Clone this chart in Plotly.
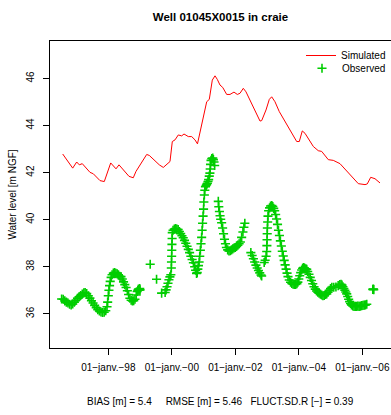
import plotly.graph_objects as go

# Simulated water level (decimal year, m NGF)
sim_year = [1996.564, 1996.879, 1997.005, 1997.087, 1997.181, 1997.424, 1997.528, 1997.739,
            1997.874, 1998.076, 1998.243, 1998.337, 1998.652, 1998.787, 1998.872, 1999.209,
            1999.291, 1999.606, 1999.732, 1999.943, 2000.016, 2000.101, 2000.205, 2000.312,
            2000.384, 2000.520, 2000.627, 2000.731, 2000.809, 2000.973, 2001.099, 2001.181,
            2001.276, 2001.361, 2001.433, 2001.518, 2001.603, 2001.729, 2001.833, 2001.959,
            2002.063, 2002.148, 2002.252, 2002.337, 2002.778, 2002.832, 2002.967, 2003.071,
            2003.146, 2003.250, 2003.386, 2003.934, 2004.016, 2004.110, 2004.195, 2004.457,
            2004.614, 2004.721, 2004.929, 2005.087, 2005.298, 2005.874, 2006.085, 2006.157,
            2006.265, 2006.400, 2006.558]
sim_level = [42.79, 42.19, 42.45, 42.33, 42.38, 42.01, 41.95, 41.66,
             41.62, 42.41, 42.16, 42.33, 41.84, 41.78, 42.05, 42.77,
             42.73, 42.33, 42.22, 42.47, 43.32, 43.39, 43.60, 43.56,
             43.64, 43.53, 43.53, 43.39, 43.22, 44.31, 45.01, 45.11,
             45.93, 46.11, 45.96, 45.72, 45.62, 45.32, 45.32, 45.42,
             45.32, 45.37, 45.58, 45.43, 44.19, 44.21, 44.66, 45.11,
             45.22, 45.01, 44.59, 43.32, 43.32, 43.77, 43.67, 43.11,
             42.93, 42.90, 42.55, 42.52, 42.38, 41.53, 41.49, 41.52,
             41.80, 41.74, 41.56]

# Observed water level (decimal year, m NGF)
obs_year = [
    1996.53, 1996.58, 1996.63, 1996.68, 1996.73, 1996.78, 1996.83, 1996.88, 1996.93, 1996.98,
    1997.03, 1997.08, 1997.13, 1997.18, 1997.23, 1997.27, 1997.32, 1997.37, 1997.42, 1997.47,
    1997.52, 1997.57, 1997.62, 1997.67, 1997.72, 1997.77, 1997.82, 1997.87, 1997.92, 1997.96,
    1997.98, 1998.00, 1998.02, 1998.04, 1998.06, 1998.09, 1998.12, 1998.16, 1998.20, 1998.24,
    1998.28, 1998.32, 1998.36, 1998.40, 1998.44, 1998.48, 1998.52, 1998.56, 1998.60, 1998.64,
    1998.68, 1998.72, 1998.76, 1998.80, 1998.84, 1998.88, 1998.91, 1998.93, 1998.95, 1998.97,
    1998.99, 1999.00,
    1999.32, 1999.52, 1999.68,
    1999.79, 1999.82, 1999.85, 1999.88, 1999.91, 1999.94, 1999.97, 1999.985, 1999.99, 1999.995,
    2000.00, 2000.005, 2000.01, 2000.015, 2000.04, 2000.08, 2000.12, 2000.16, 2000.20, 2000.24,
    2000.28, 2000.32, 2000.36, 2000.40, 2000.44, 2000.48, 2000.52, 2000.56, 2000.60, 2000.64,
    2000.68, 2000.72, 2000.75, 2000.78, 2000.80, 2000.82, 2000.84, 2000.86, 2000.88, 2000.90,
    2000.92, 2000.94, 2000.955, 2000.97, 2000.985, 2001.00, 2001.01, 2001.025, 2001.04, 2001.06,
    2001.08, 2001.10, 2001.12, 2001.14, 2001.16, 2001.18, 2001.20, 2001.21, 2001.22, 2001.235,
    2001.26, 2001.29, 2001.31, 2001.33, 2001.35,
    2001.465, 2001.48, 2001.50, 2001.52, 2001.54, 2001.57, 2001.60, 2001.63, 2001.66, 2001.69,
    2001.72, 2001.76, 2001.80, 2001.84, 2001.88, 2001.92, 2001.96, 2002.00, 2002.04, 2002.08,
    2002.12, 2002.16, 2002.20, 2002.24, 2002.27, 2002.30,
    2002.49, 2002.53, 2002.57, 2002.61, 2002.65, 2002.69, 2002.73, 2002.77, 2002.81, 2002.83,
    2002.91, 2002.94, 2002.97, 2002.99, 2002.995, 2003.00, 2003.005, 2003.01, 2003.02, 2003.03,
    2003.05, 2003.08, 2003.11, 2003.15, 2003.18, 2003.21, 2003.24, 2003.27, 2003.30, 2003.33,
    2003.36, 2003.39, 2003.42, 2003.45, 2003.48, 2003.51, 2003.54, 2003.57, 2003.60, 2003.63,
    2003.66, 2003.70, 2003.74, 2003.78, 2003.82, 2003.86, 2003.90, 2003.94, 2003.97, 2004.00,
    2004.03, 2004.06, 2004.09, 2004.12, 2004.15, 2004.18, 2004.22, 2004.25, 2004.28, 2004.32,
    2004.36, 2004.40, 2004.44, 2004.48, 2004.52, 2004.56, 2004.60, 2004.64, 2004.68, 2004.72,
    2004.76, 2004.80, 2004.84, 2004.88, 2004.92, 2004.96, 2005.00, 2005.04, 2005.10, 2005.17,
    2005.24, 2005.29, 2005.33, 2005.36, 2005.39, 2005.42, 2005.45, 2005.48, 2005.51, 2005.54,
    2005.57, 2005.60, 2005.63, 2005.66, 2005.70, 2005.74, 2005.78, 2005.82, 2005.86, 2005.90,
    2005.94, 2005.98, 2006.02, 2006.06, 2006.10, 2006.14,
    2006.33, 2006.35, 2006.36]
obs_level = [
    36.63, 36.62, 36.55, 36.50, 36.46, 36.41, 36.38, 36.42, 36.50, 36.58,
    36.66, 36.72, 36.78, 36.84, 36.89, 36.91, 36.86, 36.77, 36.67, 36.56,
    36.46, 36.36, 36.26, 36.18, 36.12, 36.08, 36.06, 36.07, 36.13, 36.30,
    36.50, 36.77, 37.00, 37.20, 37.38, 37.55, 37.66, 37.73, 37.75, 37.72,
    37.70, 37.66, 37.60, 37.58, 37.48, 37.36, 37.24, 37.12, 36.98, 36.82,
    36.66, 36.58, 36.55, 36.56, 36.62, 36.80, 36.95, 37.00, 37.05, 37.00,
    37.08, 37.02,
    38.11, 37.47, 36.88,
    36.91, 37.02, 37.15, 37.30, 37.45, 37.57, 37.66, 37.95, 38.20, 38.45,
    38.70, 38.95, 39.20, 39.45, 39.55, 39.60, 39.62, 39.60, 39.58, 39.50,
    39.41, 39.32, 39.23, 39.12, 39.00, 38.87, 38.74, 38.60, 38.45, 38.31,
    38.17, 38.00, 37.85, 37.72, 37.75, 37.90, 38.05, 38.20, 38.45, 38.70,
    38.98, 39.25, 39.55, 39.85, 40.15, 40.45, 40.75, 41.05, 41.25, 41.40,
    41.45, 41.50, 41.55, 41.62, 41.70, 41.85, 41.98, 42.15, 42.35, 42.52,
    42.60, 42.62, 42.55, 42.45, 42.30,
    40.78, 40.55, 40.35, 40.17, 40.02, 39.87, 39.65, 39.40, 39.17, 38.98,
    38.82, 38.72, 38.67, 38.68, 38.72, 38.76, 38.80, 38.82, 38.86, 38.92,
    38.98, 39.05, 39.25, 39.48, 39.68, 39.85,
    38.60, 38.48, 38.34, 38.20, 38.07, 37.95, 37.84, 37.74, 37.65, 37.61,
    38.18, 38.28, 38.45, 38.65, 38.90, 39.15, 39.40, 39.65, 39.90, 40.15,
    40.38, 40.50, 40.58, 40.60, 40.56, 40.48, 40.38, 40.22, 40.03, 39.80,
    39.55, 39.33, 39.10, 38.88, 38.66, 38.46, 38.27, 38.08, 37.90, 37.73,
    37.58, 37.44, 37.34, 37.29, 37.26, 37.25, 37.25, 37.28, 37.35, 37.48,
    37.62, 37.75, 37.86, 37.94, 37.97, 37.95, 37.91, 37.89, 37.80, 37.68,
    37.55, 37.42, 37.28, 37.15, 37.05, 36.97, 36.92, 36.88, 36.84, 36.80,
    36.77, 36.78, 36.82, 36.85, 36.92, 37.00, 37.08, 37.13, 37.13, 37.14,
    37.20, 37.24, 37.26, 37.22, 37.15, 37.08, 37.00, 36.93, 36.85, 36.74,
    36.62, 36.52, 36.44, 36.38, 36.34, 36.32, 36.32, 36.32, 36.33, 36.32,
    36.33, 36.35, 36.36, 36.37, 36.38, 36.41,
    37.04, 37.05, 37.03]

tick_years = [1998, 2000, 2002, 2004, 2006]
tick_text = ["01\u2212janv.\u221298", "01\u2212janv.\u221200", "01\u2212janv.\u221202",
             "01\u2212janv.\u221204", "01\u2212janv.\u221206"]
stats_text = ("BIAS [m] = 5.4" + "\u00a0" * 5 + "RMSE [m] = 5.46" + "\u00a0" * 3
              + "FLUCT.SD.R [\u2212] = 0.39")

FONT = "Liberation Sans, Arial, Helvetica, sans-serif"
GREEN = "#00CD00"

fig = go.Figure()
fig.add_trace(go.Scatter(x=sim_year, y=sim_level, mode="lines", name="Simulated",
                         line=dict(color="#FF0000", width=1), legend="legend"))
fig.add_trace(go.Scatter(x=obs_year, y=obs_level, mode="markers", name="Observed",
                         marker=dict(symbol="cross-thin", size=6.5, color=GREEN,
                                     line=dict(color=GREEN, width=1.6)),
                         legend="legend2"))

# one legend per entry so the rows sit as tightly as in the R legend
leg_common = dict(x=1, xanchor="right", yanchor="top", bgcolor="rgba(0,0,0,0)",
                  font=dict(size=10), itemwidth=30)
fig.update_layout(
    width=391, height=415,
    margin=dict(l=50, r=0, t=41, b=67),
    paper_bgcolor="white", plot_bgcolor="white",
    font=dict(family=FONT, size=10, color="#000"),
    title=dict(text="<b>Well 01045X0015 in craie</b>", x=0.5, xref="paper",
               y=1 - 17 / 415, yanchor="middle", font=dict(size=11.5, color="#000")),
    legend=dict(y=1, **leg_common),
    legend2=dict(y=0.9586, **leg_common),
    showlegend=True,
)
fig.update_xaxes(range=[1996.164, 2006.904], tickvals=tick_years, ticktext=tick_text,
                 showline=True, mirror=True, linecolor="black", linewidth=1,
                 ticks="outside", ticklen=6, tickcolor="black", ticklabelstandoff=4,
                 showgrid=False, zeroline=False)
fig.update_yaxes(range=[34.55, 47.59], tickvals=[36, 38, 40, 42, 44, 46], tickangle=-90,
                 showline=True, linecolor="black", linewidth=1,
                 ticks="outside", ticklen=6, tickcolor="black", ticklabelstandoff=5,
                 showgrid=False, zeroline=False,
                 title=dict(text="Water level [m NGF]", standoff=6, font=dict(size=10)))
fig.add_annotation(text=stats_text, xref="paper", yref="paper", x=0.5, y=-0.175,
                   xanchor="center", yanchor="middle", showarrow=False, font=dict(size=10))

# the page body has a default 8px margin; remove it so the figure sits at (0, 0)
fig.write_html("out.html", config={"displayModeBar": False},
               post_script="document.body.style.margin='0';")
